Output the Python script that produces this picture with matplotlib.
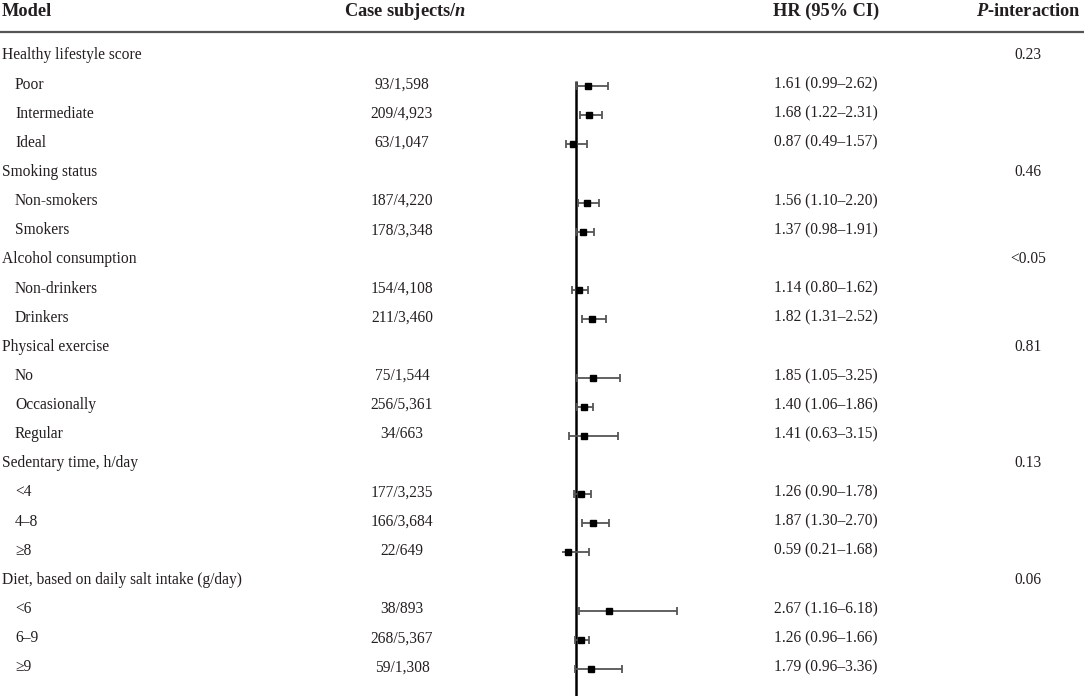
import numpy as np
import matplotlib
matplotlib.use("Agg")
import matplotlib.pyplot as plt

# fonts: serif, like the journal table
plt.rcParams["font.family"] = "Liberation Serif"
plt.rcParams["mathtext.fontset"] = "custom"
plt.rcParams["mathtext.rm"] = "Liberation Serif"
plt.rcParams["mathtext.it"] = "Liberation Serif:italic"
plt.rcParams["mathtext.bf"] = "Liberation Serif:bold"
plt.rcParams["mathtext.bfit"] = "Liberation Serif:italic:bold"

groups = ["Healthy lifestyle score", "Smoking status", "Alcohol consumption",
          "Physical exercise", "Sedentary time, h/day",
          "Diet, based on daily salt intake (g/day)"]
p_interaction = ["0.23", "0.46", "<0.05", "0.81", "0.13", "0.06"]

subgroups = [["Poor", "Intermediate", "Ideal"],
             ["Non-smokers", "Smokers"],
             ["Non-drinkers", "Drinkers"],
             ["No", "Occasionally", "Regular"],
             ["<4", "4–8", "≥8"],
             ["<6", "6–9", "≥9"]]
cases = [["93/1,598", "209/4,923", "63/1,047"],
         ["187/4,220", "178/3,348"],
         ["154/4,108", "211/3,460"],
         ["75/1,544", "256/5,361", "34/663"],
         ["177/3,235", "166/3,684", "22/649"],
         ["38/893", "268/5,367", "59/1,308"]]
hr = [[1.61, 1.68, 0.87], [1.56, 1.37], [1.14, 1.82],
      [1.85, 1.40, 1.41], [1.26, 1.87, 0.59], [2.67, 1.26, 1.79]]
lo = [[0.99, 1.22, 0.49], [1.10, 0.98], [0.80, 1.31],
      [1.05, 1.06, 0.63], [0.90, 1.30, 0.21], [1.16, 0.96, 0.96]]
hi = [[2.62, 2.31, 1.57], [2.20, 1.91], [1.62, 2.52],
      [3.25, 1.86, 3.15], [1.78, 2.70, 1.68], [6.18, 1.66, 3.36]]

W, H = 1084, 696
row0_px, step_px = 54.8, 29.14
def px2row(y):
    return (y - row0_px) / step_px

y_top, y_bot = px2row(0), px2row(H)
base_off = 4.6 / step_px     # text baseline sits a bit below the row centre
mark_off = 2.2 / step_px

fig = plt.figure(figsize=(W / 100, H / 100), dpi=100)
tab = fig.add_axes([0, 0, 1, 1])
tab.set_xlim(0, W)
tab.set_ylim(y_bot, y_top)
tab.axis("off")

txt = "#231f20"
fs = 11.2
hfs = 13.2

# column headers
hy = px2row(15.5)
tab.text(2, hy, "Model", fontsize=hfs, fontweight="bold", ha="left", va="baseline", color=txt)
tab.text(405, hy, r"Case subjects/$\mathbfit{n}$", fontsize=hfs, fontweight="bold",
         ha="center", va="baseline", color=txt)
tab.text(826, hy, "HR (95% CI)", fontsize=hfs, fontweight="bold", ha="center", va="baseline", color=txt)
tab.text(1028, hy, r"$\mathbfit{P}$-interaction", fontsize=hfs, fontweight="bold",
         ha="center", va="baseline", color=txt)
tab.axhline(px2row(32), color="#555555", lw=1.6)

# forest panel: HR=1 at x=576 px, 19.5 px per unit
x_left, x_right = 0.3, 7.0
scale = 19.5
left_px = 576 - (1 - x_left) * scale
right_px = 576 + (x_right - 1) * scale
fp = fig.add_axes([left_px / W, 0, (right_px - left_px) / W, 1])
fp.set_xlim(x_left, x_right)
fp.set_ylim(y_bot, y_top)
fp.axis("off")
fp.patch.set_alpha(0)

rows, hr_all, lo_all, hi_all = [], [], [], []
r = 0
for g, name in enumerate(groups):
    tab.text(2, r + base_off, name, fontsize=fs, ha="left", va="baseline", color=txt)
    tab.text(1028, r + base_off, p_interaction[g], fontsize=fs, ha="center", va="baseline", color=txt)
    r += 1
    for k, sub in enumerate(subgroups[g]):
        tab.text(15, r + base_off, sub, fontsize=fs, ha="left", va="baseline", color=txt)
        tab.text(402, r + base_off, cases[g][k], fontsize=fs, ha="center", va="baseline", color=txt)
        tab.text(826, r + base_off, f"{hr[g][k]:.2f} ({lo[g][k]:.2f}–{hi[g][k]:.2f})",
                 fontsize=fs, ha="center", va="baseline", color=txt)
        rows.append(r)
        hr_all.append(hr[g][k])
        lo_all.append(lo[g][k])
        hi_all.append(hi[g][k])
        r += 1

rows = np.array(rows)
hr_all = np.array(hr_all)
lo_all = np.array(lo_all)
hi_all = np.array(hi_all)

fp.vlines(1, rows[0] - 0.1, y_bot, color="black", lw=1.8, zorder=1)
fp.errorbar(hr_all, rows + mark_off, xerr=[hr_all - lo_all, hi_all - hr_all], fmt="s",
            color="black", ms=5, ecolor="#555555", elinewidth=1.3,
            capsize=3, capthick=1.3, zorder=3)

fig.savefig("out.png", dpi=100)
